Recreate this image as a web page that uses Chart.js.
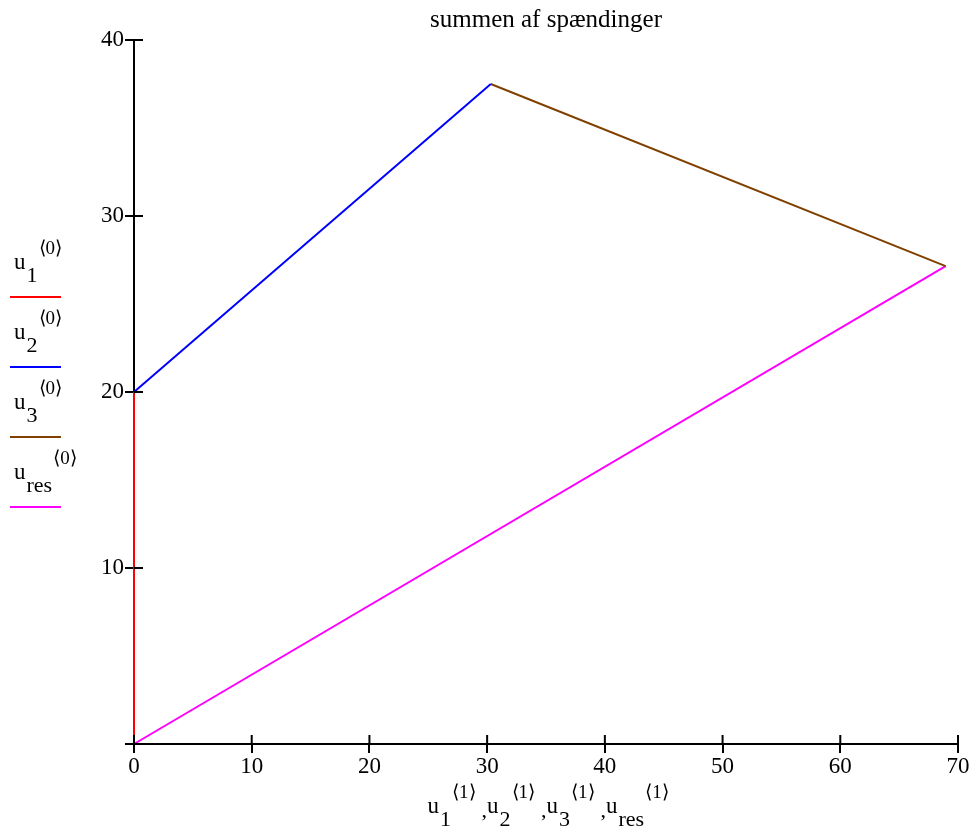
<!DOCTYPE html>
<html>
<head>
<meta charset="utf-8">
<script src="https://cdn.jsdelivr.net/npm/chart.js@4"></script>
<style>
  html, body { margin: 0; padding: 0; background: #fff; }
  #wrap { position: relative; width: 978px; height: 838px; }
  .lbl { position: absolute; font-family: "Liberation Serif", serif; color: #000; white-space: nowrap; line-height: 1; }
  .lbl .b { font-size: 23px; }
  .lbl .sub { font-size: 22px; position: relative; top: 13px; margin-left: 1px; }
  .lbl .sup { font-size: 19px; position: relative; top: -15px; margin-left: 1px; }
  .lbl .c { font-size: 22px; margin-left: 6px; position: relative; top: 4px; }
  .key { position: absolute; left: 10px; width: 51px; height: 2px; }
</style>
</head>
<body>
<div id="wrap">
  <canvas id="myChart" width="978" height="838"></canvas>
</div>
<script>
const names = ["1", "2", "3", "res"];
const u1x = [0, 0];
const u1y = [0, 20];
const u2x = [0, 30.31];
const u2y = [20, 37.5];
const u3x = [30.31, 68.95];
const u3y = [37.5, 27.15];
const uresx = [0, 68.95];
const uresy = [0, 27.15];
const xTicks = [0, 10, 20, 30, 40, 50, 60, 70];
const yTicks = [0, 10, 20, 30, 40];

const colors = ["#ff0000", "#0000ff", "#804000", "#ff00ff"];
const xs = [u1x, u2x, u3x, uresx];
const ys = [u1y, u2y, u3y, uresy];

function pts(x, y) {
  return x.map((v, i) => ({ x: v, y: y[i] }));
}

function term(name, idx) {
  return '<span class="b">u</span><span class="sub">' + name + '</span><span class="sup">\u27E8' + idx + '\u27E9</span>';
}

// draws the inner half of the ticks so they cross the axis lines
const crossTicks = {
  id: "crossTicks",
  afterDraw(chart) {
    const ctx = chart.ctx;
    const a = chart.chartArea;
    const sx = chart.scales.x, sy = chart.scales.y;
    ctx.save();
    ctx.strokeStyle = "#000";
    ctx.lineWidth = 2;
    ctx.beginPath();
    sx.ticks.forEach((t) => {
      const px = sx.getPixelForValue(t.value);
      ctx.moveTo(px, a.bottom);
      ctx.lineTo(px, a.bottom - 9);
    });
    sy.ticks.forEach((t) => {
      const py = sy.getPixelForValue(t.value);
      ctx.moveTo(a.left, py);
      ctx.lineTo(a.left + 9, py);
    });
    ctx.stroke();
    ctx.restore();
  },
};

const font = { family: "Liberation Serif", size: 23 };

new Chart(document.getElementById("myChart"), {
  type: "scatter",
  data: {
    datasets: names.map((n, i) => ({
      label: "u" + n,
      data: pts(xs[i], ys[i]),
      showLine: true,
      borderColor: colors[i],
      backgroundColor: colors[i],
      borderWidth: 2,
      pointRadius: 0,
      clip: false,
      order: i === 0 ? 0 : 1,
    })),
  },
  options: {
    responsive: false,
    animation: false,
    layout: { padding: { left: 0, right: 20, top: 0, bottom: 0 } },
    scales: {
      x: {
        type: "linear",
        min: 0,
        max: 70,
        afterFit: (s) => { s.height = 94; },
        afterBuildTicks: (s) => { s.ticks = xTicks.map((v) => ({ value: v })); },
        border: { color: "#000", width: 2 },
        grid: { drawOnChartArea: false, color: "#000", lineWidth: 2, tickLength: 9 },
        ticks: { color: "#000", font, padding: 0, maxRotation: 0 },
      },
      y: {
        type: "linear",
        min: 0,
        max: 40,
        afterFit: (s) => { s.width = 134; },
        afterBuildTicks: (s) => { s.ticks = yTicks.map((v) => ({ value: v })); },
        border: { color: "#000", width: 2 },
        grid: { drawOnChartArea: false, color: "#000", lineWidth: 2, tickLength: 9 },
        ticks: { color: "#000", font, padding: 1, callback: (v) => (v === 0 ? "" : v) },
      },
    },
    plugins: {
      legend: { display: false },
      tooltip: { enabled: false },
      title: {
        display: true,
        fullSize: false,
        text: "summen af spændinger",
        color: "#000",
        font: { family: "Liberation Serif", size: 25, weight: "normal", lineHeight: 1.2 },
        padding: { top: 5, bottom: 5 },
      },
    },
  },
  plugins: [crossTicks],
});

// y-axis title (Mathcad style key on the left)
const wrap = document.getElementById("wrap");
names.forEach((n, i) => {
  const lineY = 297 + i * 70;
  const t = document.createElement("div");
  t.className = "lbl";
  t.style.left = "14px";
  t.style.top = (lineY - 47) + "px";
  t.innerHTML = term(n, 0);
  wrap.appendChild(t);
  const k = document.createElement("div");
  k.className = "key";
  k.style.top = (lineY - 1) + "px";
  k.style.background = colors[i];
  wrap.appendChild(k);
});

// x-axis title
const xt = document.createElement("div");
xt.className = "lbl";
xt.style.top = "794px";
xt.innerHTML = names.map((n) => term(n, 1)).join('<span class="c">,</span>');
wrap.appendChild(xt);
xt.style.left = (548 - xt.offsetWidth / 2) + "px";
</script>
</body>
</html>
